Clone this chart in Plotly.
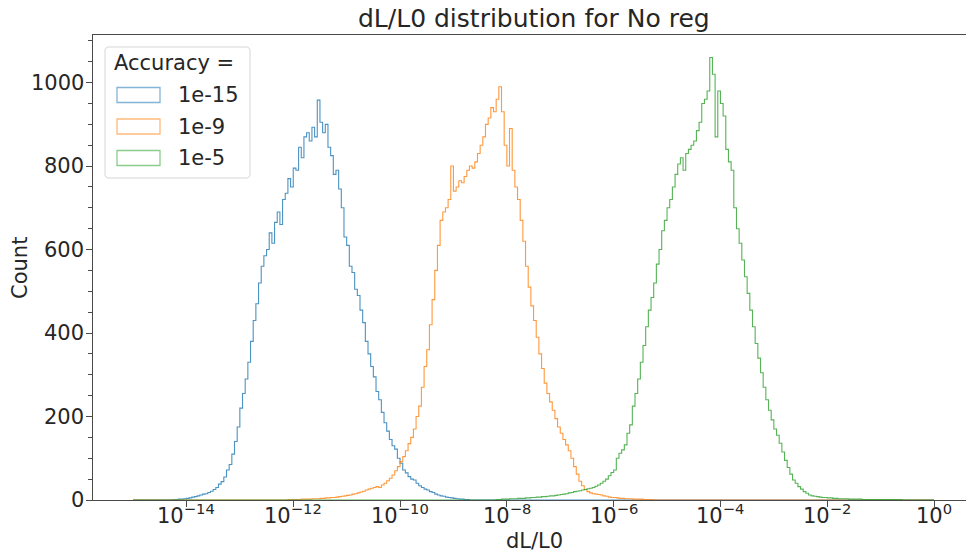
import numpy as np
import plotly.graph_objects as go

# ---------------- data ----------------
BIN_WIDTH_DECADES = 0.05          # histogram bin width in log10 units
LOG_RANGE = (-15.0, 0.0)          # bins span 1e-15 .. 1e0

SERIES_NAMES = ["1e-15", "1e-9", "1e-5"]
SERIES_COLORS = ["#1f77b4", "#ff7f0e", "#2ca02c"]

# Accuracy = 1e-15  (first non-empty bin starts at 10^-14.25)
blue_start_log = -14.25
blue_counts = [1, 1, 2, 2, 3, 4, 5, 7, 8, 10, 12, 14, 15, 18, 21, 25, 30, 38, 44, 55,
               72, 85, 110, 140, 175, 220, 255, 290, 330, 380, 430, 470, 520, 560, 585,
               600, 640, 615, 665, 690, 660, 720, 735, 770, 750, 795, 790, 845, 820, 870,
               880, 860, 893, 870, 958, 905, 880, 900, 845, 825, 780, 790, 745, 700, 630,
               610, 560, 545, 505, 490, 455, 425, 380, 350, 320, 295, 260, 240, 210, 185,
               165, 145, 130, 122, 100, 88, 72, 65, 56, 50, 48, 40, 34, 30, 26, 24, 20,
               18, 14, 12, 10, 9, 7, 6, 5, 4, 3, 2, 2, 1, 1]

# Accuracy = 1e-9  (first non-empty bin starts at 10^-12.20)
orange_start_log = -12.20
orange_counts = [0, 0, 1, 1, 1, 1, 1, 2, 2, 2, 2, 3, 3, 3, 4, 4, 5, 5, 6, 6, 7, 8, 9, 10,
                 11, 12, 14, 15, 17, 19, 21, 24, 26, 28, 30, 32, 30, 36, 40, 46, 52, 60,
                 70, 80, 92, 104, 118, 135, 150, 170, 200, 225, 270, 320, 360, 420, 480,
                 550, 610, 670, 690, 700, 720, 800, 740, 750, 765, 760, 775, 790, 800,
                 795, 810, 830, 850, 870, 900, 915, 940, 930, 960, 990, 930, 850, 800,
                 890, 790, 750, 720, 670, 620, 560, 510, 465, 430, 390, 350, 315, 280,
                 255, 235, 215, 195, 175, 160, 145, 132, 118, 100, 80, 62, 45, 34, 25, 20,
                 17, 15, 14, 13, 12, 10, 9, 7, 6, 6, 5, 4, 4, 3, 3, 3, 2, 2, 2, 2, 1, 1,
                 1, 1]

# Accuracy = 1e-5  (first non-empty bin starts at 10^-8.20)
green_start_log = -8.20
green_counts = [1, 1, 2, 2, 2, 3, 3, 3, 4, 4, 4, 5, 5, 6, 6, 7, 7, 8, 8, 9, 10, 10, 11,
                12, 13, 14, 15, 17, 18, 20, 21, 22, 24, 25, 27, 28, 30, 33, 36, 40, 45,
                50, 58, 66, 72, 100, 112, 120, 132, 160, 180, 225, 255, 290, 330, 370,
                415, 455, 485, 520, 565, 600, 645, 670, 700, 720, 750, 780, 805, 820,
                790, 830, 840, 850, 860, 885, 905, 950, 960, 980, 1060, 1020, 870, 980,
                950, 920, 840, 810, 790, 700, 650, 615, 575, 535, 495, 455, 415, 375,
                340, 305, 270, 240, 215, 192, 170, 155, 136, 115, 95, 78, 62, 48, 40, 32,
                26, 20, 16, 12, 10, 9, 8, 7, 6, 6, 5, 5, 4, 4, 3, 3, 3, 3, 2, 2, 2, 2,
                2, 1, 1, 1, 1, 1, 1, 1, 1, 1, 1, 1, 1, 1, 1, 1]

X_TICK_EXPONENTS = [-14, -12, -10, -8, -6, -4, -2, 0]
Y_TICKS = [0, 200, 400, 600, 800, 1000]

TITLE = "dL/L0 distribution for No reg"
X_LABEL = "dL/L0"
Y_LABEL = "Count"
LEGEND_TITLE = "Accuracy ="

# ---------------- build histogram steps ----------------
n_bins = int(round((LOG_RANGE[1] - LOG_RANGE[0]) / BIN_WIDTH_DECADES))
log_edges = LOG_RANGE[0] + BIN_WIDTH_DECADES * np.arange(n_bins + 1)
edges = 10.0 ** log_edges


def full_counts(start_log, counts):
    arr = np.zeros(n_bins)
    i0 = int(round((start_log - LOG_RANGE[0]) / BIN_WIDTH_DECADES))
    arr[i0:i0 + len(counts)] = counts
    return arr


series = [
    full_counts(blue_start_log, blue_counts),
    full_counts(orange_start_log, orange_counts),
    full_counts(green_start_log, green_counts),
]

FONT = "DejaVu Sans"
TXT = "#262626"
AX = "#4a4a4a"
FS = 21        # tick / label / legend font size
FS_TITLE = 25

W, H = 966, 554
PL, PT, PB = 93, 35, 500      # plot area left / top / bottom in px
PR = W                        # plot area continues past the window edge
Y_MAX = 1114


def px(x):
    return (x - PL) / (PR - PL)


def py(y):
    return (PB - y) / (PB - PT)


def rgba(hexc, a):
    h = hexc.lstrip("#")
    return "rgba(%d,%d,%d,%.2f)" % (int(h[0:2], 16), int(h[2:4], 16), int(h[4:6], 16), a)


fig = go.Figure()
for name, color, arr in zip(SERIES_NAMES, SERIES_COLORS, series):
    fig.add_trace(go.Scatter(
        x=edges, y=np.append(arr, arr[-1]),
        mode="lines", line=dict(shape="hv", width=1.1, color=rgba(color, 0.8)),
        name=name, showlegend=False, hoverinfo="skip",
    ))

# x range: 53.4 px per decade, 1e-14 at x=186.5
x_lo = -15.75
x_hi = x_lo + (PR - PL) / 53.4

fig.update_layout(
    width=W, height=H,
    margin=dict(l=PL, r=W - PR, t=PT, b=H - PB),
    paper_bgcolor="white", plot_bgcolor="white",
    font=dict(family=FONT, size=FS, color=TXT),
    showlegend=False,
    xaxis=dict(
        type="log", range=[x_lo, x_hi],
        tickvals=[10.0 ** e for e in X_TICK_EXPONENTS],
        showticklabels=False,
        ticks="outside", ticklen=6, tickwidth=1.25, tickcolor=AX,
        showline=True, linecolor=AX, linewidth=1.25, mirror=True,
        showgrid=False, zeroline=False,
    ),
    yaxis=dict(
        range=[0, Y_MAX],
        tickvals=Y_TICKS,
        showticklabels=False,
        ticks="outside", ticklen=6, tickwidth=1.25, tickcolor=AX,
        minor=dict(dtick=50, ticks="outside", ticklen=3.5, tickwidth=1, tickcolor=AX),
        showline=True, linecolor=AX, linewidth=1.25, mirror=False,
        showgrid=False, zeroline=False,
    ),
)

annotations = [
    dict(text=TITLE, x=px(534), y=py(35), xref="paper", yref="paper",
         xanchor="center", yanchor="bottom", showarrow=False,
         font=dict(family=FONT, size=FS_TITLE, color=TXT)),
    dict(text=X_LABEL, x=px(534), y=py(541), xref="paper", yref="paper",
         xanchor="center", yanchor="middle", showarrow=False,
         font=dict(family=FONT, size=FS, color=TXT)),
    dict(text=Y_LABEL, x=px(20), y=py(268), xref="paper", yref="paper",
         xanchor="center", yanchor="middle", showarrow=False, textangle=-90,
         font=dict(family=FONT, size=FS, color=TXT)),
]

# tick labels placed through the axes' own coordinates
for e in X_TICK_EXPONENTS:
    annotations.append(dict(
        text="10<sup>%s</sup>" % str(e).replace("-", "\u2212"),
        x=e, y=0, xref="x", yref="paper", xanchor="center", yanchor="top",
        yshift=2, showarrow=False, font=dict(family=FONT, size=FS, color=TXT)))
for v in Y_TICKS:
    annotations.append(dict(
        text=str(v), x=0, y=v, xref="paper", yref="y", xanchor="right",
        yanchor="middle", xshift=-7, showarrow=False,
        font=dict(family=FONT, size=FS, color=TXT)))

# ---- legend drawn by hand (matplotlib style: outlined patches) ----
lx0, ly0, lx1, ly1, r = 105, 47, 250, 178, 4
path = ("M %f,%f L %f,%f Q %f,%f %f,%f L %f,%f Q %f,%f %f,%f "
        "L %f,%f Q %f,%f %f,%f L %f,%f Q %f,%f %f,%f Z") % (
    px(lx0 + r), py(ly0), px(lx1 - r), py(ly0), px(lx1), py(ly0), px(lx1), py(ly0 + r),
    px(lx1), py(ly1 - r), px(lx1), py(ly1), px(lx1 - r), py(ly1),
    px(lx0 + r), py(ly1), px(lx0), py(ly1), px(lx0), py(ly1 - r),
    px(lx0), py(ly0 + r), px(lx0), py(ly0), px(lx0 + r), py(ly0))
shapes = [dict(type="path", path=path, xref="paper", yref="paper",
               line=dict(color="#d6d6d6", width=1), fillcolor="rgba(255,255,255,0.8)",
               layer="above")]

annotations.append(dict(text=LEGEND_TITLE, x=px(112), y=py(63), xref="paper", yref="paper",
                        xanchor="left", yanchor="middle", showarrow=False,
                        font=dict(family=FONT, size=FS, color=TXT)))
entry_y = [95, 126.5, 158]
for name, color, cy in zip(SERIES_NAMES, SERIES_COLORS, entry_y):
    shapes.append(dict(type="rect", xref="paper", yref="paper",
                       x0=px(117), x1=px(160), y0=py(cy - 7.5), y1=py(cy + 7.5),
                       line=dict(color=rgba(color, 0.55), width=1.3),
                       fillcolor="rgba(0,0,0,0)", layer="above"))
    annotations.append(dict(text=name, x=px(176), y=py(cy), xref="paper", yref="paper",
                            xanchor="left", yanchor="middle", showarrow=False,
                            font=dict(family=FONT, size=FS, color=TXT)))

fig.update_layout(shapes=shapes, annotations=annotations)

fig.write_html("out.html")
